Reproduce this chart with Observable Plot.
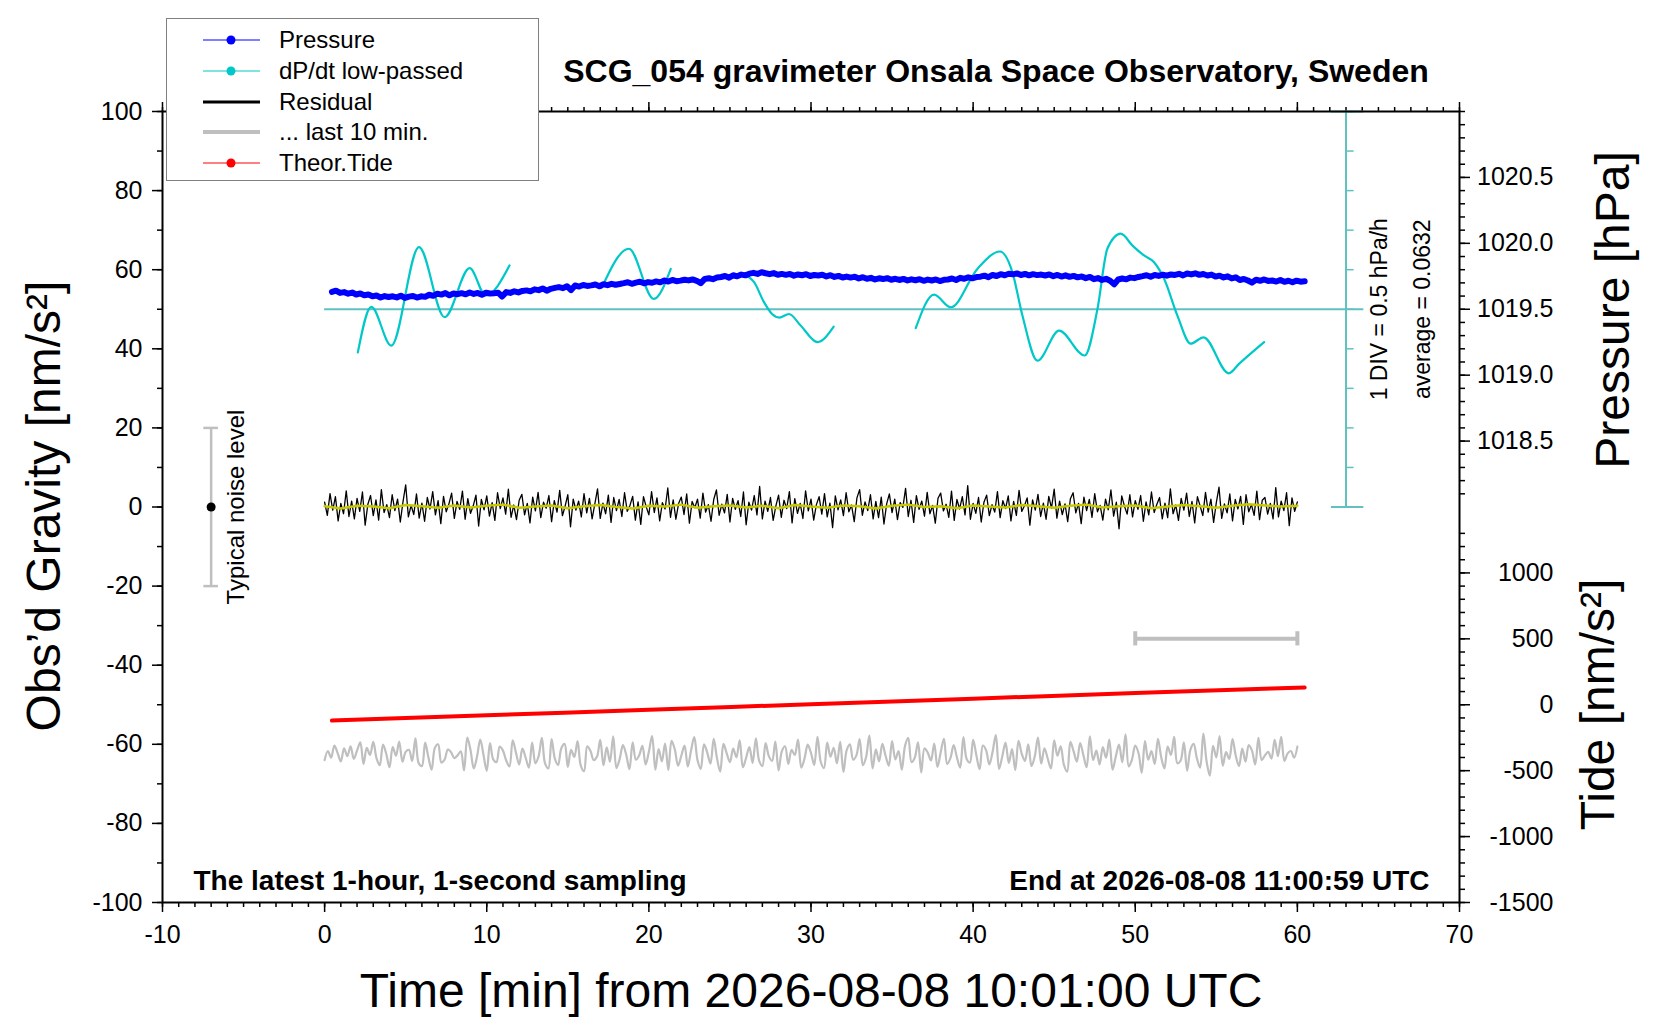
<!DOCTYPE html>
<html lang="en">
<head>
<meta charset="utf-8">
<title>SCG_054 gravimeter Onsala Space Observatory, Sweden</title>

<script src="https://cdn.jsdelivr.net/npm/d3@7"></script>
<script src="https://cdn.jsdelivr.net/npm/@observablehq/plot@0.6"></script>

<style>
  body {
    margin: 0;
    background: #fff;
    overflow: hidden;
  }

  #wrap {
    position: relative;
    width: 1660px;
    height: 1020px;
    font-family: "Liberation Sans", Arial, sans-serif;
  }

  #legend {
    position: absolute;
    left: 166px;
    top: 18px;
    width: 371px;
    height: 161px;
    border: 1px solid #808080;
    background: #fff;
  }

  .row {
    position: absolute;
    left: 0;
    width: 100%;
    height: 30px;
  }

  .row svg {
    position: absolute;
    left: 35px;
    top: 0;
  }

  .row span {
    position: absolute;
    left: 112px;
    top: 0;
    line-height: 30px;
    font-size: 24px;
    color: #000;
  }
</style>
</head>

<body>
<div id="wrap">
  <div id="graphic"></div>
  <div id="legend"></div>
</div>

<script>
  // residual gravity, nm/s2, one value every 10 s from 10:01:00
  const residualStep = 1 / 6;
  const residual = [
    1.2,-2.1,3.4,-0.8,2.6,-3.5,0.9,-1.7,4.1,-2.4,1.5,-3.0,
    2.2,-1.1,3.8,-4.6,0.7,2.9,-2.2,1.8,-3.3,4.4,-1.4,0.6,
    -2.7,3.1,-0.9,2.0,-3.8,1.3,5.6,-2.5,0.4,-1.9,3.3,-2.8,
    1.0,-3.6,2.4,-0.5,3.9,-2.0,1.6,-4.2,2.7,-1.2,0.8,3.5,
    -2.9,1.4,-0.6,4.0,-3.1,2.1,-1.6,0.3,3.0,-4.8,1.9,-0.7,
    2.8,-2.3,1.1,-3.4,3.6,-0.4,2.3,-1.8,4.5,-2.6,0.5,-3.2,
    1.7,3.2,-2.0,0.9,-4.0,2.5,-1.0,3.7,-2.7,1.2,-0.3,2.9,
    -3.7,1.6,-1.3,4.2,-2.2,0.2,3.1,-5.0,2.0,-0.8,1.5,-2.5,
    3.4,-1.5,2.2,-3.0,0.8,4.6,-2.9,1.0,-1.7,3.0,-3.9,2.4,
    -0.9,1.9,-2.4,3.6,-1.1,0.4,2.7,-3.3,1.3,-4.4,2.6,0.1,
    -2.0,3.9,-1.4,2.3,-3.5,1.1,-0.5,4.8,-2.6,1.8,-3.1,0.9,
    2.5,-1.9,3.3,-4.1,1.4,-0.2,2.0,-2.8,3.5,-1.3,0.6,-3.6,
    1.9,4.3,-2.1,0.7,-1.5,3.2,-3.8,2.2,-0.6,1.6,-2.4,3.8,
    -4.5,1.2,-0.8,2.9,-2.0,5.2,-3.0,1.5,-1.1,2.4,-3.4,0.3,
    3.0,-2.6,1.7,-0.4,3.9,-4.0,2.1,-1.6,0.9,-2.9,4.1,-1.0,
    2.0,-3.3,0.6,2.6,-1.8,3.4,-2.5,1.0,-5.2,2.8,-0.7,1.8,
    -2.2,3.6,-1.2,0.5,-3.7,2.3,4.4,-2.1,1.3,-0.9,3.1,-3.0,
    1.4,-2.7,2.5,-4.3,0.8,3.3,-1.4,2.0,-3.2,1.1,-0.1,4.7,
    -2.4,1.7,-3.9,2.9,-0.6,1.5,-2.3,3.7,-1.7,0.4,-4.1,2.2,
    3.5,-1.0,0.7,-2.6,4.0,-3.4,1.9,-0.5,2.6,-2.0,5.4,-3.1,
    0.9,-1.6,2.4,-3.8,1.2,3.0,-2.2,0.6,-1.3,3.9,-2.7,1.6,
    -0.4,2.8,-3.5,1.4,-2.1,4.2,-1.1,0.3,2.3,-4.6,1.8,-0.8,
    3.2,-2.4,1.0,-3.1,2.7,-0.3,4.5,-2.8,1.5,-1.9,0.8,-3.7,
    2.1,3.6,-1.5,0.9,-4.2,2.5,-0.9,1.9,-2.6,3.4,-1.2,0.4,
    -3.3,2.0,-0.7,4.3,-2.3,1.2,-5.5,2.8,0.2,-1.8,3.1,-2.5,
    1.6,-0.6,2.9,-3.6,1.3,-2.0,3.8,-1.4,0.7,2.4,-3.0,1.0,
    -2.7,4.6,-1.7,0.5,-3.4,2.2,-0.8,3.5,-2.4,1.4,-4.0,2.6,
    0.3,-2.2,3.7,-1.3,2.0,-3.9,1.1,5.0,-2.9,0.8,-1.5,3.3,
    -3.5,1.9,-0.5,2.7,-4.4,3.1,-1.2,0.6,-2.1,4.0,-3.2,1.7,
    2.4,-1.8,0.9,-3.0,4.9,-2.5,1.5,-0.9,3.6,-4.7,2.3,-1.1,
    1.3
  ];

  // smoothed residual (yellow), one value per minute
  const smoothStep = 1;
  const residualSmooth = [
    0.2,-0.4,0.3,0.1,-0.3,0.5,0.2,-0.2,0.4,-0.1,
    0.3,0.6,-0.2,0.1,0.4,-0.3,0.2,0.5,0.0,-0.4,
    0.3,0.1,0.6,-0.2,0.2,0.4,-0.1,0.3,-0.3,0.5,
    0.1,-0.2,0.4,0.2,-0.4,0.3,0.6,0.0,0.2,-0.3,
    0.4,0.1,-0.1,0.5,0.2,-0.2,0.3,0.6,-0.1,0.2,
    0.4,-0.3,0.1,0.5,0.2,-0.2,0.3,0.7,0.4,0.1,
    0.3
  ];

  // residual of the last 10 minutes, stretched over the hour (gray)
  const lastTenStep = 0.2;
  const lastTen = [
    -1.5,0.8,-0.9,2.2,0.3,-1.8,1.5,-0.5,2.0,-1.2,0.9,3.0,-2.5,1.6,-0.2,
    3.1,-1.0,-2.8,2.4,0.1,-3.3,1.8,-0.4,3.2,-1.9,0.6,1.1,-1.7,4.0,-2.2,
    -3.0,2.9,-0.8,-3.9,1.6,2.5,-2.1,-1.4,1.2,0.5,-1.0,-0.3,0.7,-4.1,4.2,
    1.0,-3.6,-0.6,3.7,-0.2,-4.2,2.8,-1.3,-2.0,1.9,0.9,-1.6,-3.1,3.5,0.4,
    -2.6,1.4,-0.9,-3.4,2.9,-2.3,-0.5,4.1,-2.4,-3.6,3.8,-1.1,-2.7,1.5,2.6,
    -3.2,1.1,-0.7,3.3,-2.9,-4.3,2.0,0.8,-1.5,-0.6,3.6,-2.8,1.7,-1.9,4.5,
    -3.5,-1.2,2.3,-0.1,-3.8,3.0,-1.4,-0.3,2.1,-2.6,0.6,4.6,-3.9,1.3,-1.8,
    2.7,-4.0,3.4,1.2,-2.9,-0.4,2.2,-3.1,0.9,4.3,-1.5,-3.7,2.5,0.4,-2.4,
    3.9,-1.0,-4.4,2.6,0.2,-2.0,1.4,-0.8,3.5,-3.3,-0.9,1.8,-2.2,4.0,-1.6,
    -3.0,2.8,-0.5,-1.7,3.2,-4.1,0.7,2.0,-2.5,1.1,-0.2,3.7,-3.4,-1.1,2.4,
    0.3,-2.7,4.4,-1.9,-3.5,2.9,-0.6,1.6,-2.3,3.1,-4.5,1.0,2.5,-1.4,-0.3,
    3.8,-2.8,-0.7,4.7,-3.6,1.2,-1.8,2.6,-0.4,-2.9,3.3,-1.3,0.8,-3.9,2.1,
    4.1,-2.0,-0.9,3.0,-4.6,1.5,0.4,-1.6,2.7,-3.2,0.5,3.9,-2.5,-1.0,2.3,
    -0.8,-3.4,4.3,-1.2,-2.1,3.6,-0.3,-3.8,2.2,1.0,-2.6,0.6,4.8,-3.7,-0.5,
    2.9,-2.2,1.3,-4.0,3.4,0.1,-1.7,2.5,-3.0,-0.6,4.2,-2.4,1.5,-1.1,-3.6,
    3.5,-0.4,2.0,-2.7,-4.4,3.1,0.7,-1.9,2.8,-0.2,-3.3,4.5,-1.5,0.9,-2.6,
    1.8,-0.9,3.7,-3.9,-0.6,2.4,-2.0,5.0,-3.1,-1.3,2.2,0.3,-4.7,3.3,-1.4,
    0.8,-2.5,3.9,-0.7,-3.6,1.9,-0.2,4.4,-2.3,-1.6,3.0,-4.2,1.1,2.6,-1.0,
    -3.4,5.2,-1.8,-5.4,2.1,-0.8,4.6,-2.9,0.5,-1.2,3.8,-0.4,-3.0,1.4,-1.9,
    2.3,0.9,-2.6,4.1,-1.5,-0.3,0.6,-1.1,3.6,-0.5,4.4,-1.7,0.2,0.8,-0.9,
    1.9
  ];

  // air pressure, hPa, every 15 s starting 0.45 min
  const pressureStart = 0.45;
  const pressureStep = 0.25;
  const pressure = [
    1019.632,1019.641,1019.624,1019.630,1019.618,1019.627,1019.612,1019.620,
    1019.606,1019.612,1019.598,1019.604,1019.589,1019.600,1019.593,1019.598,
    1019.590,1019.603,1019.586,1019.596,1019.601,1019.589,1019.598,1019.594,
    1019.610,1019.602,1019.618,1019.611,1019.623,1019.606,1019.619,1019.614,
    1019.622,1019.613,1019.627,1019.616,1019.624,1019.610,1019.625,1019.619,
    1019.621,1019.626,1019.597,1019.630,1019.624,1019.636,1019.628,1019.639,
    1019.643,1019.636,1019.651,1019.645,1019.658,1019.641,1019.655,1019.662,
    1019.668,1019.660,1019.675,1019.645,1019.680,1019.672,1019.684,1019.677,
    1019.681,1019.688,1019.675,1019.690,1019.683,1019.693,1019.686,1019.692,
    1019.698,1019.705,1019.693,1019.702,1019.709,1019.697,1019.706,1019.701,
    1019.711,1019.704,1019.718,1019.710,1019.722,1019.713,1019.717,1019.724,
    1019.719,1019.726,1019.716,1019.698,1019.730,1019.735,1019.728,1019.741,
    1019.745,1019.752,1019.740,1019.758,1019.750,1019.763,1019.757,1019.770,
    1019.776,1019.768,1019.781,1019.773,1019.766,1019.774,1019.762,1019.768,
    1019.761,1019.768,1019.755,1019.764,1019.758,1019.766,1019.752,1019.760,
    1019.756,1019.762,1019.749,1019.758,1019.745,1019.753,1019.741,1019.748,
    1019.740,1019.747,1019.734,1019.743,1019.731,1019.738,1019.726,1019.735,
    1019.729,1019.736,1019.724,1019.731,1019.722,1019.730,1019.719,1019.727,
    1019.720,1019.728,1019.716,1019.725,1019.718,1019.726,1019.714,1019.723,
    1019.726,1019.733,1019.722,1019.738,1019.731,1019.742,1019.735,1019.744,
    1019.747,1019.755,1019.743,1019.760,1019.752,1019.766,1019.758,1019.769,
    1019.765,1019.772,1019.760,1019.768,1019.757,1019.766,1019.759,1019.763,
    1019.756,1019.764,1019.751,1019.760,1019.748,1019.757,1019.746,1019.753,
    1019.742,1019.749,1019.736,1019.745,1019.728,1019.737,1019.722,1019.731,
    1019.716,1019.690,1019.726,1019.733,1019.727,1019.740,1019.736,1019.745,
    1019.751,1019.758,1019.746,1019.760,1019.753,1019.762,1019.755,1019.764,
    1019.760,1019.769,1019.757,1019.771,1019.764,1019.773,1019.761,1019.767,
    1019.756,1019.763,1019.748,1019.755,1019.741,1019.750,1019.734,1019.742,
    1019.722,1019.730,1019.718,1019.702,1019.724,1019.716,1019.726,1019.715,
    1019.718,1019.710,1019.722,1019.708,1019.716,1019.705,1019.717,1019.709,
    1019.712
  ];

  // dP/dt low-passed, [minute, hPa/h], four pieces
  const dpdt1 = [[2.05,-0.545],[2.88,0.03],[4.11,-0.46],[5.82,0.785],[7.40,-0.10],[8.95,0.52],[9.93,0.175],[11.41,0.555]];
  const dpdt2 = [[17.1,0.275],[18.77,0.765],[20.3,0.13],[21.35,0.51]];
  const dpdt3 = [[25.9,0.44],[26.5,0.34],[27.1,0.09],[27.6,-0.06],[28.05,-0.105],[28.64,-0.06],[29.36,-0.205],[30.4,-0.415],[31.4,-0.22]];
  const dpdt4 = [[36.46,-0.24],[37.59,0.185],[38.62,0.025],[40.26,0.51],[41.66,0.73],[42.42,0.47],[43.04,-0.08],
                 [43.97,-0.65],[45.30,-0.27],[46.88,-0.585],[47.67,0.005],[48.28,0.765],[49.10,0.955],[49.83,0.805],
                 [50.54,0.68],[51.16,0.595],[51.78,0.385],[52.60,-0.08],[53.42,-0.435],[54.21,-0.355],[55.77,-0.81],
                 [56.40,-0.69],[57.95,-0.415]];

  // theoretical tide, nm/s2
  const tideT = [0.45, 10, 20, 30, 40, 50, 60.45];
  const tideV = [-120, -80, -38, 4, 46, 89, 131];

  const xLabels = [-10, 0, 10, 20, 30, 40, 50, 60, 70];
  const yLabels = [-100, -80, -60, -40, -20, 0, 20, 40, 60, 80, 100];
  const pressureLabels = [1018.5, 1019.0, 1019.5, 1020.0, 1020.5];
  const tideLabels = [-1500, -1000, -500, 0, 500, 1000];
  const dpdtTicks = [-2.5, -2, -1.5, -1, -0.5, 0, 0.5, 1, 1.5, 2, 2.5];

  const noiseLevel = 20;        // nm/s2
  const lastWindow = [50, 60];  // minutes

  // secondary axes mapped onto the gravity axis
  const toG = p => 50 + (p - 1019.5) * 100 / 3;
  const fromG = g => 1019.5 + (g - 50) * 3 / 100;
  const tideToG = v => -50 + v / 30;
  const gToTide = g => (g + 50) * 30;
  const dpdtToG = v => 50 + v * 20;
  const grayOffset = -62.5;

  const dpdt = [dpdt1, dpdt2, dpdt3, dpdt4].flatMap((seg, k) => seg.map(([t, v]) => ({t, v, seg: k})));
  const tide = tideT.map((t, i) => ({t, v: tideV[i]}));

  const teal = "#62c1c0";
  const gray = "#bfbfbf";
  const dpdtAxisX = 63;

  const label = (s, o) => Plot.text([s], {text: d => d, ...o});
  const blank = () => "";

  const chart = Plot.plot({
    width: 1660,
    height: 1020,
    marginLeft: 162,
    marginRight: 201,
    marginTop: 111,
    marginBottom: 118,
    style: {fontFamily: '"Liberation Sans", Arial, sans-serif', fontSize: "25px", color: "black", background: "white", overflow: "visible"},
    x: {domain: [-10, 70], label: null},
    y: {domain: [-100, 100], label: null},
    marks: [
      // axes
      Plot.axisX({anchor: "bottom", ticks: d3.range(-10, 71, 1), tickSize: 5, tickFormat: blank, strokeWidth: 1.5, label: null}),
      Plot.axisX({anchor: "bottom", ticks: xLabels, tickSize: 10, tickPadding: 13, tickFormat: d => String(d), strokeWidth: 1.5, fontSize: 25, label: null}),
      Plot.axisX({anchor: "top", ticks: d3.range(-10, 71, 1), tickSize: 5, tickFormat: blank, strokeWidth: 1.5, label: null}),
      Plot.axisX({anchor: "top", ticks: xLabels, tickSize: 10, tickFormat: blank, strokeWidth: 1.5, label: null}),
      Plot.axisY({anchor: "left", ticks: d3.range(-100, 101, 10), tickSize: 5, tickFormat: blank, strokeWidth: 1.5, label: null}),
      Plot.axisY({anchor: "left", ticks: yLabels, tickSize: 10, tickPadding: 10, tickFormat: d => String(d), strokeWidth: 1.5, fontSize: 25, label: null}),
      Plot.axisY({anchor: "right", ticks: d3.range(1018.1, 1021.001, 0.1).map(toG), tickSize: 5, tickFormat: blank, strokeWidth: 1.5, label: null}),
      Plot.axisY({anchor: "right", ticks: pressureLabels.map(toG), tickSize: 10, tickPadding: 84, textAnchor: "end",
                  tickFormat: g => fromG(g).toFixed(1), strokeWidth: 1.5, fontSize: 25, label: null}),
      Plot.axisY({anchor: "right", ticks: d3.range(-1500, 1301, 100).map(tideToG), tickSize: 5, tickFormat: blank, strokeWidth: 1.5, label: null}),
      Plot.axisY({anchor: "right", ticks: tideLabels.map(tideToG), tickSize: 10, tickPadding: 84, textAnchor: "end",
                  tickFormat: g => String(Math.round(gToTide(g))), strokeWidth: 1.5, fontSize: 25, label: null}),

      // dP/dt scale
      Plot.ruleY([0], {y: dpdtToG, x1: 0, x2: 64.1, stroke: teal, strokeWidth: 2}),
      Plot.ruleX([dpdtAxisX], {y1: dpdtToG(-2.5), y2: dpdtToG(2.5), stroke: teal, strokeWidth: 2}),
      Plot.ruleY(dpdtTicks, {y: dpdtToG, x1: dpdtAxisX, x2: dpdtAxisX + 0.5, stroke: teal, strokeWidth: 1.5}),
      Plot.ruleY([-2.5, 2.5], {y: dpdtToG, x1: dpdtAxisX - 0.9, x2: 64.1, stroke: teal, strokeWidth: 2}),

      // typical noise level
      Plot.ruleX([-7], {y1: -noiseLevel, y2: noiseLevel, stroke: gray, strokeWidth: 2.5}),
      Plot.ruleY([-noiseLevel, noiseLevel], {y: d => d, x1: -7.45, x2: -6.55, stroke: gray, strokeWidth: 2.5}),
      Plot.dot([0], {x: -7, y: d => d, r: 4.5, fill: "black"}),

      // last 10 min marker
      Plot.ruleY([500], {y: tideToG, x1: lastWindow[0], x2: lastWindow[1], stroke: gray, strokeWidth: 4}),
      Plot.ruleX(lastWindow, {x: d => d, y1: tideToG(500) - 1.8, y2: tideToG(500) + 1.8, stroke: gray, strokeWidth: 4}),

      // series
      Plot.line(lastTen, {x: (d, i) => i * lastTenStep, y: d => d + grayOffset, stroke: gray, strokeWidth: 2.2, curve: "catmull-rom"}),
      Plot.line(tide, {x: "t", y: d => tideToG(d.v), stroke: "#ff0000", strokeWidth: 4, curve: "monotone-x"}),
      Plot.line(residual, {x: (d, i) => i * residualStep, y: d => d, stroke: "black", strokeWidth: 1.3}),
      Plot.line(residualSmooth, {x: (d, i) => i * smoothStep, y: d => d, stroke: "#c8c800", strokeWidth: 2.5}),
      Plot.line(dpdt, {x: "t", y: d => dpdtToG(d.v), z: "seg", stroke: "#00c8c8", strokeWidth: 2.2, curve: "monotone-x"}),
      Plot.line(pressure, {x: (d, i) => pressureStart + i * pressureStep, y: toG, stroke: "#0000ff", strokeWidth: 6, strokeLinejoin: "round"}),

      Plot.frame({stroke: "black", strokeWidth: 2}),

      // annotations
      label("Typical noise level", {x: -5.45, y: 0, rotate: -90, fontSize: 24}),
      label("1 DIV = 0.5 hPa/h", {x: 65.05, y: 50, rotate: -90, fontSize: 23}),
      label("average = 0.0632", {x: 67.7, y: 50, rotate: -90, fontSize: 23}),
      label("The latest 1-hour, 1-second sampling", {frameAnchor: "bottom-left", textAnchor: "start", lineAnchor: "bottom", dx: 31, dy: -13, fontSize: 28, fontWeight: "bold"}),
      label("End at 2026-08-08 11:00:59 UTC", {frameAnchor: "bottom-right", textAnchor: "end", lineAnchor: "bottom", dx: -30, dy: -13, fontSize: 28, fontWeight: "bold"}),
      label("SCG_054 gravimeter Onsala Space Observatory, Sweden", {frameAnchor: "top", textAnchor: "middle", lineAnchor: "bottom", dx: 185, dy: -30, fontSize: 32, fontWeight: "bold"}),

      // axis titles
      label("Time [min] from 2026-08-08 10:01:00 UTC", {frameAnchor: "bottom", textAnchor: "middle", lineAnchor: "bottom", dy: 104, fontSize: 48}),
      label("Obs\u2019d Gravity [nm/s\u00b2]", {frameAnchor: "left", textAnchor: "middle", lineAnchor: "middle", dx: -117.5, dy: -1, rotate: -90, fontSize: 48}),
      label("Pressure [hPa]", {frameAnchor: "right", textAnchor: "middle", lineAnchor: "middle", dx: 154.5, dy: -197, rotate: -90, fontSize: 48}),
      label("Tide [nm/s\u00b2]", {frameAnchor: "right", textAnchor: "middle", lineAnchor: "middle", dx: 139.5, dy: 197.5, rotate: -90, fontSize: 48})
    ]
  });

  document.getElementById("graphic").appendChild(chart);

  // legend box drawn over the top-left of the frame
  const legendItems = [
    {label: "Pressure", color: "#0000ff", width: 1, dot: true},
    {label: "dP/dt low-passed", color: "#00c8c8", width: 1, dot: true},
    {label: "Residual", color: "#000000", width: 3, dot: false},
    {label: "... last 10 min.", color: gray, width: 4, dot: false},
    {label: "Theor.Tide", color: "#ff0000", width: 1, dot: true}
  ];

  const legend = d3.select("#legend");
  legendItems.forEach((item, i) => {
    const row = legend.append("div").attr("class", "row").style("top", (6 + i * 30.75) + "px");
    const svg = row.append("svg").attr("width", 60).attr("height", 30);
    svg.append("line")
      .attr("x1", 1).attr("x2", 58).attr("y1", 15).attr("y2", 15)
      .attr("stroke", item.color).attr("stroke-width", item.width);
    if (item.dot) svg.append("circle").attr("cx", 29).attr("cy", 15).attr("r", 4.5).attr("fill", item.color);
    row.append("span").text(item.label);
  });
</script>
</body>
</html>
